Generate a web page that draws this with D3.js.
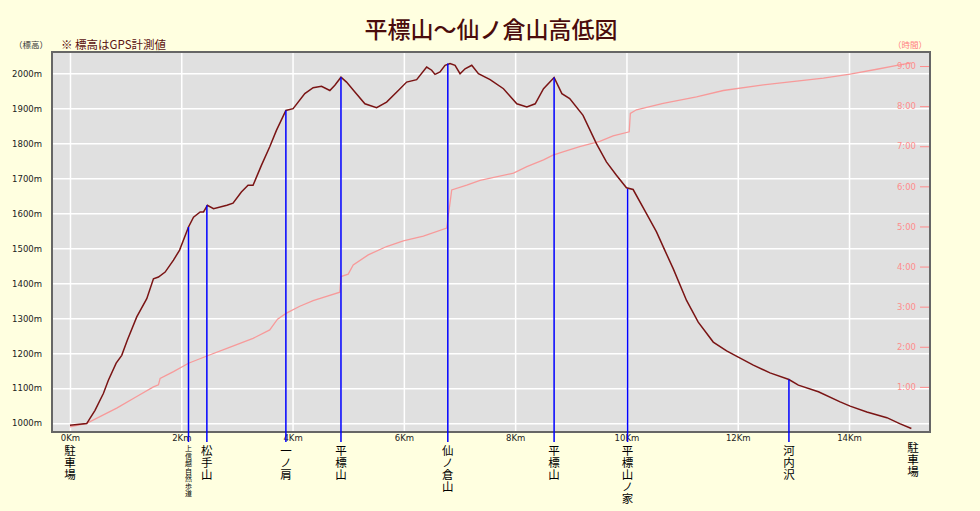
<!DOCTYPE html>
<html>
<head>
<meta charset="utf-8">
<script src="https://cdnjs.cloudflare.com/ajax/libs/d3/7.8.5/d3.min.js"></script>
<style>
  body { margin: 0; background: #ffffe0; }
  svg { display: block; }
  .axis text { font-family: "DejaVu Sans", sans-serif; font-size: 8.5px; }
  .grid line { stroke: #ffffff; stroke-width: 1.5; }
  .vlabel { font-family: "Noto Sans CJK JP"; writing-mode: vertical-rl; text-orientation: upright; }
</style>
</head>
<body>
<div class="graph_wrapper"></div>
<script>
// elevation profile (km, m)
var elevKm = [0, 0.17, 0.30, 0.45, 0.60, 0.69, 0.83, 0.93, 1.03, 1.20, 1.38, 1.50, 1.59, 1.71, 1.86, 1.97,
  2.13, 2.22, 2.34, 2.40, 2.47, 2.58, 2.82, 2.93, 3.08, 3.20, 3.29, 3.44, 3.59, 3.71, 3.88, 4.01, 4.22,
  4.37, 4.52, 4.67, 4.76, 4.87, 4.97, 5.12, 5.30, 5.51, 5.69, 5.90, 6.05, 6.23, 6.41, 6.50, 6.56, 6.65,
  6.74, 6.83, 6.92, 7.01, 7.10, 7.22, 7.34, 7.55, 7.79, 8.03, 8.21, 8.36, 8.51, 8.70, 8.84, 8.98, 9.22,
  9.46, 9.64, 9.82, 10.00, 10.12, 10.36, 10.54, 10.69, 10.84, 11.08, 11.29, 11.56, 11.80, 12.01, 12.28,
  12.58, 12.92, 13.09, 13.45, 13.84, 14.02, 14.32, 14.68, 14.91, 15.12];
var elevM = [994, 997, 999, 1037, 1085, 1123, 1172, 1194, 1237, 1304, 1356, 1413, 1418, 1432, 1466, 1495,
  1561, 1589, 1604, 1604, 1623, 1613, 1623, 1629, 1661, 1680, 1680, 1737, 1790, 1837, 1894, 1899, 1942,
  1959, 1963, 1951, 1966, 1989, 1975, 1947, 1913, 1902, 1918, 1951, 1975, 1982, 2018, 2009, 1997, 2004,
  2023, 2028, 2023, 1999, 2013, 2023, 1999, 1982, 1956, 1913, 1904, 1913, 1956, 1988, 1942, 1928, 1880,
  1799, 1747, 1709, 1673, 1668, 1599, 1547, 1494, 1442, 1351, 1289, 1232, 1207, 1189, 1166,
  1144, 1125, 1109, 1090, 1061, 1049, 1032, 1016, 999, 985];

// elapsed time (km, hours)
var timeKm = [0, 0.30, 0.84, 1.20, 1.50, 1.59, 1.62, 1.86, 2.13, 2.46, 2.82, 3.29, 3.59, 3.73, 3.89, 4.13,
  4.37, 4.85, 4.87, 5.00, 5.09, 5.36, 5.69, 5.99, 6.35, 6.77, 6.86, 7.13, 7.37, 7.97, 8.21, 8.51, 8.68,
  8.86, 9.16, 9.52, 9.76, 10.05, 10.07, 10.18, 10.66, 11.26, 11.74, 12.46, 13.54, 14.02, 14.50, 14.91, 15.12];
var timeH = [0, 0.09, 0.47, 0.76, 1.00, 1.05, 1.21, 1.38, 1.59, 1.77, 1.96, 2.21, 2.42, 2.69, 2.84, 3.01,
  3.15, 3.36, 3.75, 3.81, 4.04, 4.29, 4.50, 4.64, 4.76, 4.96, 5.91, 6.03, 6.15, 6.33, 6.49, 6.66, 6.78,
  6.86, 6.99, 7.12, 7.26, 7.36, 7.82, 7.91, 8.07, 8.23, 8.39, 8.53, 8.70, 8.80, 8.92, 9.03, 9.08];

// waypoints
var pointNames = ['上信越自然歩道', '松手山', '一ノ肩', '平標山', '仙ノ倉山', '平標山', '平標山ノ家', '河内沢'];
var pointKm = [2.13, 2.46, 3.88, 4.87, 6.79, 8.70, 10.02, 12.92];
var pointM = [1561, 1623, 1894, 1989, 2028, 1988, 1670, 1125];
var endNames = ['駐車場', '駐車場'];
var endKm = [0, 15.15];

var kmTicks = [0, 2, 4, 6, 8, 10, 12, 14];
var elevTicks = [1000, 1100, 1200, 1300, 1400, 1500, 1600, 1700, 1800, 1900, 2000];
var hourTicks = [1, 2, 3, 4, 5, 6, 7, 8, 9];

(function () {
  var width = 980;
  var height = 511;
  var pLeft = 52, pRight = 930, pTop = 52, pBottom = 432;

  var x = d3.scaleLinear().domain([-0.323, 15.455]).range([pLeft, pRight]);
  var y = d3.scaleLinear().domain([975, 2061]).range([pBottom, pTop]);
  var yTime = d3.scaleLinear().domain([-0.125, 9.35]).range([pBottom, pTop]);

  var svg = d3.select('.graph_wrapper').append('svg').attr('width', width).attr('height', height);

  svg.append('rect').attr('width', width).attr('height', height).attr('fill', '#ffffe0');

  // title and captions
  svg.append('text').attr('x', 491).attr('y', 28).attr('text-anchor', 'middle').attr('dominant-baseline', 'central')
    .style('font-family', '"Noto Sans CJK JP"').style('font-size', '23px').style('font-weight', 500)
    .attr('fill', '#4a0c0c').text('平標山～仙ノ倉山高低図');

  svg.append('text').attr('x', 61).attr('y', 44).attr('dominant-baseline', 'central')
    .style('font-family', '"Noto Sans CJK JP"').style('font-size', '11.5px')
    .attr('fill', '#5a1010').text('※ 標高はGPS計測値');

  svg.append('text').attr('x', 31).attr('y', 44).attr('text-anchor', 'middle').attr('dominant-baseline', 'central')
    .style('font-family', '"Noto Sans CJK JP"').style('font-size', '8.5px')
    .attr('fill', '#333').text('（標高）');

  svg.append('text').attr('x', 910).attr('y', 44).attr('text-anchor', 'middle').attr('dominant-baseline', 'central')
    .style('font-family', '"Noto Sans CJK JP"').style('font-size', '8.5px')
    .attr('fill', '#ff8080').text('（時間）');

  // plot background
  svg.append('rect').attr('x', pLeft).attr('y', pTop).attr('width', pRight - pLeft).attr('height', pBottom - pTop)
    .attr('fill', '#e0e0e0');

  // grid
  svg.append('g').attr('class', 'grid').attr('transform', 'translate(' + pLeft + ',0)')
    .call(d3.axisLeft(y).tickValues(elevTicks).tickSize(-(pRight - pLeft)).tickFormat(''))
    .call(function (g) { g.select('.domain').remove(); });

  svg.append('g').attr('class', 'grid').attr('transform', 'translate(0,' + pBottom + ')')
    .call(d3.axisBottom(x).tickValues(kmTicks).tickSize(-(pBottom - pTop)).tickFormat(''))
    .call(function (g) { g.select('.domain').remove(); });

  // time line
  var timeData = timeKm.map(function (k, i) { return [k, timeH[i]]; });
  svg.append('path').datum(timeData)
    .attr('d', d3.line().x(function (d) { return x(d[0]); }).y(function (d) { return yTime(d[1]); }))
    .attr('fill', 'none').attr('stroke', '#f79a9a').attr('stroke-width', 1.3);

  // elevation line
  var elevData = elevKm.map(function (k, i) { return [k, elevM[i]]; });
  svg.append('path').datum(elevData)
    .attr('d', d3.line().x(function (d) { return x(d[0]); }).y(function (d) { return y(d[1]); }))
    .attr('fill', 'none').attr('stroke', '#7a1414').attr('stroke-width', 1.5);

  // plot border
  svg.append('rect').attr('x', pLeft).attr('y', pTop).attr('width', pRight - pLeft).attr('height', pBottom - pTop)
    .attr('fill', 'none').attr('stroke', '#666').attr('stroke-width', 2);

  // axes
  svg.append('g').attr('class', 'axis').attr('transform', 'translate(' + pLeft + ',0)')
    .call(d3.axisLeft(y).tickValues(elevTicks).tickSize(0).tickPadding(10).tickFormat(function (d) { return d + 'm'; }))
    .call(function (g) { g.select('.domain').remove(); })
    .selectAll('text').attr('fill', '#222');

  svg.append('g').attr('class', 'axis').attr('transform', 'translate(0,' + pBottom + ')')
    .call(d3.axisBottom(x).tickValues(kmTicks).tickSize(0).tickPadding(3).tickFormat(function (d) { return d + 'Km'; }))
    .call(function (g) { g.select('.domain').remove(); })
    .selectAll('text').attr('fill', '#222');

  var rightAxis = svg.append('g').attr('class', 'axis').attr('transform', 'translate(' + (pRight - 1) + ',0)')
    .call(d3.axisLeft(yTime).tickValues(hourTicks).tickSize(9).tickPadding(4).tickFormat(function (d) { return d + ':00'; }))
    .call(function (g) { g.select('.domain').remove(); });
  rightAxis.selectAll('text').attr('fill', '#ff8c8c');
  rightAxis.selectAll('line').attr('stroke', '#ff8c8c');

  // waypoint markers
  svg.selectAll('.marker').data(pointKm).enter().append('line').attr('class', 'marker')
    .attr('x1', function (d) { return x(d); }).attr('x2', function (d) { return x(d); })
    .attr('y1', function (d, i) { return y(pointM[i]); }).attr('y2', pBottom + 10)
    .attr('stroke', '#0000ff').attr('stroke-width', 1.5);

  // vertical (top-to-bottom) labels, one text each
  function verticalLabel(name, km, size, spacing, y0) {
    svg.append('text').attr('class', 'vlabel').attr('x', x(km)).attr('y', y0)
      .style('font-size', size + 'px').style('letter-spacing', spacing + 'px')
      .attr('fill', '#000').text(name);
  }

  pointNames.forEach(function (n, i) {
    if (n.length > 5) verticalLabel(n, pointKm[i], 7, 0.5, 445);
    else verticalLabel(n, pointKm[i], 11.5, 0.5, 445);
  });
  endNames.forEach(function (n, i) { verticalLabel(n, endKm[i], 11.5, 0.5, i === 0 ? 445 : 442); });
})();
</script>
</body>
</html>
